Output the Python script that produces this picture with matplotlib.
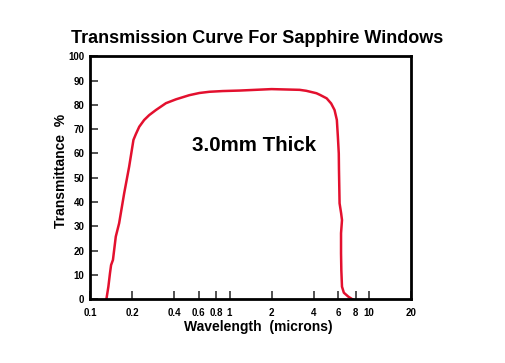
import matplotlib
matplotlib.use("Agg")
import matplotlib.pyplot as plt
from matplotlib.ticker import FixedLocator, NullLocator, FixedFormatter

plt.rcParams['font.family'] = ['Liberation Sans', 'DejaVu Sans']

wavelength = [0.131, 0.1354, 0.139, 0.1416, 0.146, 0.153, 0.1617, 0.1757, 0.1908,
              0.2048, 0.2132, 0.2253, 0.2445, 0.2656, 0.2969, 0.350, 0.4135,
              0.515, 0.608, 0.718, 0.895, 1.18, 2.0, 3.18, 3.55, 4.2, 4.46,
              4.97, 5.35, 5.66, 5.88, 5.98, 6.07, 6.09, 6.15, 6.31, 6.4, 6.3,
              6.3, 6.33, 6.4, 6.6, 7.1, 7.6]
transmittance = [0.0, 5.2, 10.7, 14.1, 16.2, 25.8, 31.3, 43.6, 54.6,
                 65.6, 68.0, 71.0, 73.8, 75.8, 77.9, 80.7, 82.3,
                 84.0, 84.9, 85.4, 85.7, 85.9, 86.5, 86.2, 85.8, 84.8, 84.1,
                 82.7, 80.6, 77.9, 73.8, 66.9, 60.0, 53.2, 39.5, 35.4, 32.6, 27.2,
                 18.9, 12.0, 5.2, 2.7, 1.1, 0.0]

xticks = [0.1, 0.2, 0.4, 0.6, 0.8, 1, 2, 4, 6, 8, 10, 20]
xticklabels = ['0.1', '0.2', '0.4', '0.6', '0.8', '1', '2', '4', '6', '8', '10', '20']
yticks = [0, 10, 20, 30, 40, 50, 60, 70, 80, 90, 100]

fig = plt.figure(figsize=(5.06, 3.63), dpi=100)
ax = fig.add_axes([0.1779, 0.1755, 0.6344, 0.6694])

ax.plot(wavelength, transmittance, color='#e3102e', lw=1.8)
ax.set_xscale('log')
ax.set_xlim(0.1, 20)
ax.set_ylim(0, 100)

ax.xaxis.set_major_locator(FixedLocator(xticks))
ax.xaxis.set_major_formatter(FixedFormatter(xticklabels))
ax.xaxis.set_minor_locator(NullLocator())
ax.set_yticks(yticks)

for s in ax.spines.values():
    s.set_linewidth(2)
ax.tick_params(direction='in', length=6, width=1.3, color='#444444',
               labelsize=7, pad=4)
ax.tick_params(axis='x', pad=6)
for lab in ax.get_xticklabels() + ax.get_yticklabels():
    lab.set_fontweight('bold')

ax.set_xlabel('Wavelength  (microns)', fontsize=10, fontweight='bold')
ax.set_ylabel('Transmittance  %', fontsize=10, fontweight='bold')
ax.xaxis.set_label_coords(0.523, -0.085)
ax.yaxis.set_label_coords(-0.068, 0.528)

fig.text(0.508, 0.895, 'Transmission Curve For Sapphire Windows', ha='center',
         va='center', fontsize=13, fontweight='bold')
ax.text(1.488, 61.2, '3.0mm Thick', ha='center', va='baseline',
        fontsize=14.8, fontweight='bold')

fig.savefig('out.png', dpi=100)
